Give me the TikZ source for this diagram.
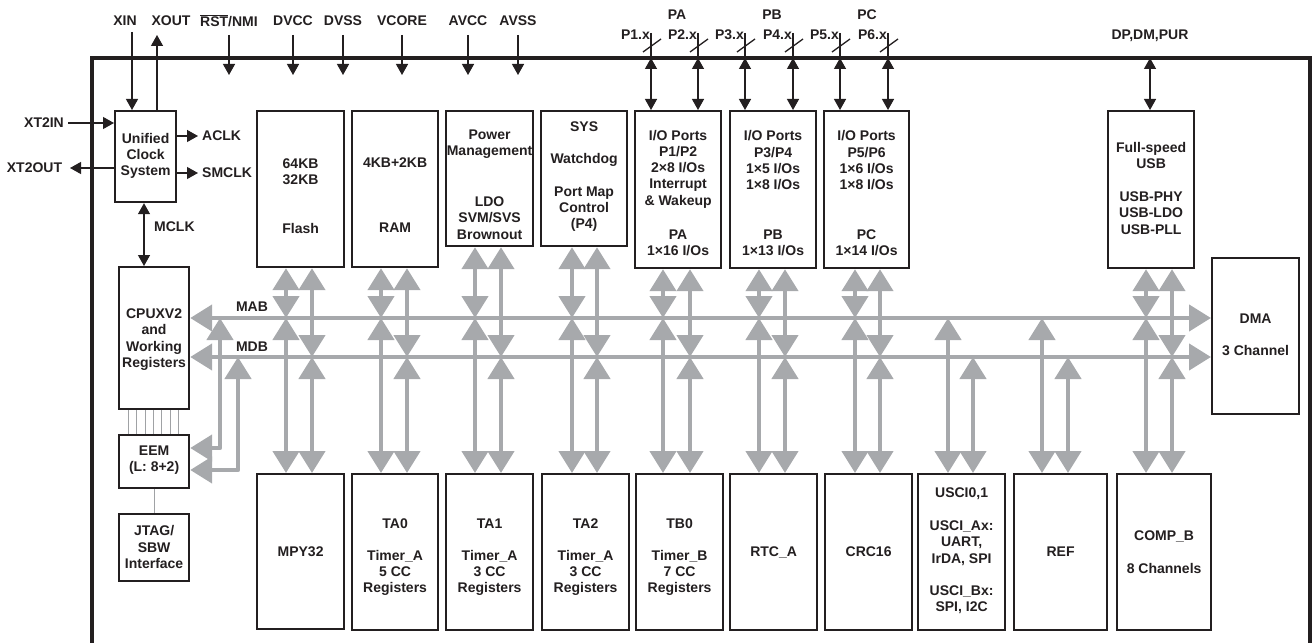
\documentclass[tikz,border=0pt]{standalone}
\usepackage{fontspec}
\setmainfont{Liberation Sans}
\usetikzlibrary{arrows.meta}
\definecolor{ink}{HTML}{231F20}
\definecolor{busgray}{HTML}{A7A9AC}
\definecolor{thingray}{HTML}{A0A2A5}
\tikzset{
  blk/.style={draw=ink, line width=2.2bp, fill=white, inner sep=0pt},
  txt/.style={font=\fontsize{14bp}{16.3bp}\selectfont\bfseries, align=center, inner sep=0pt, text=ink},
  busline/.style={draw=busgray, line width=4.5bp, line join=round},
  busarr/.style={busline, {Triangle[length=22bp,width=26bp]}-{Triangle[length=22bp,width=26bp]}},
  pin/.style={draw=ink, line width=1.3bp},
  pinarr/.style={pin, -{Triangle[length=11bp,width=12bp]}},
  pinboth/.style={pin, {Triangle[length=11bp,width=12bp]}-{Triangle[length=11bp,width=12bp]}},
  thinl/.style={draw=thingray, line width=0.9bp},
  frame/.style={draw=ink, line width=3.3bp}
}
\newcommand\mkbox[5]{\node[blk, anchor=north west, minimum width={(#4-#2)*1bp}, minimum height={(#5-#3)*1bp}] (#1) at (#2,#3) {};}
\begin{document}
\begin{tikzpicture}[x=1bp,y=-1bp]
\useasboundingbox (0,0) rectangle (1314,643);
% frame
\draw[frame] (92,660) -- (92,58) -- (1310,58) -- (1310,660);
\coordinate (mab) at (0,318);
\coordinate (mdb) at (0,357);
% boxes
\mkbox{clk}{114}{110}{175}{201}
\mkbox{flash}{256}{110}{343}{266}
\mkbox{ram}{351}{110}{437}{266}
\mkbox{pm}{445}{110}{532}{245}
\mkbox{sys}{540}{110}{626}{245}
\mkbox{pa}{634}{110}{720}{267}
\mkbox{pb}{729}{110}{815}{267}
\mkbox{pc}{823}{110}{908}{267}
\mkbox{usb}{1107}{110}{1193}{267}
\mkbox{dma}{1211}{257}{1298}{413}
\mkbox{cpu}{118}{266}{188}{408}
\mkbox{eem}{118}{434}{188}{487}
\mkbox{jtag}{118}{513}{188}{580}
\mkbox{mpy}{256}{473}{343}{628}
\mkbox{ta0}{351}{473}{437}{629}
\mkbox{ta1}{445}{473}{532}{629}
\mkbox{ta2}{541}{473}{628}{629}
\mkbox{tb0}{635}{473}{722}{629}
\mkbox{rtc}{729}{473}{816}{629}
\mkbox{crc}{824}{473}{911}{629}
\mkbox{usci}{917}{473}{1004}{629}
\mkbox{ref}{1013}{473}{1106}{629}
\mkbox{comp}{1116}{473}{1210}{629}
% buses
\draw[busarr] (cpu.east |- mab) -- (dma.west |- mab);
\draw[busarr] (cpu.east |- mdb) -- (dma.west |- mdb);
\foreach \tp/\bt/\xl/\xr in {flash/mpy/286/312, ram/ta0/381/407, pm/ta1/475/501, sys/ta2/572/597, pa/tb0/663/690, pb/rtc/759/785, pc/crc/855/880, usb/comp/1146/1172}{
  \draw[busarr] (\tp.south -| \xl,0) -- (\xl,0 |- mab);
  \draw[busarr] (\xl,0 |- mab) -- (\bt.north -| \xl,0);
  \draw[busarr] (\tp.south -| \xr,0) -- (\xr,0 |- mdb);
  \draw[busarr] (\xr,0 |- mdb) -- (\bt.north -| \xr,0);
}
\draw[busarr] (948,0 |- mab) -- (usci.north -| 948,0);
\draw[busarr] (973,0 |- mdb) -- (usci.north -| 973,0);
\draw[busarr] (1042,0 |- mab) -- (ref.north -| 1042,0);
\draw[busarr] (1068,0 |- mdb) -- (ref.north -| 1068,0);
\draw[busarr] (eem.east |- 0,448) -| (220,0 |- mab);
\draw[busarr] (eem.east |- 0,470) -| (238,0 |- mdb);
\node[txt] (mabl) at (252,307) {MAB};
\node[txt] (mdbl) at (252,347) {MDB};
% thin links
\foreach \xx in {128.3,136.7,145,153.3,161.7,170,178.5}
  \draw[thinl] (cpu.south -| \xx,0) -- (eem.north -| \xx,0);
\draw[thinl] (eem.south) -- (jtag.north);
% clock pins
\node[txt] (xin) at (125,21) {XIN};
\node[txt] (xout) at (171,21) {XOUT};
\draw[pinarr] (132,32) -- (clk.north -| 132,0);
\draw[pinarr] (clk.north -| 157,0) -- (157,35);
\node[txt] (xt2in) at (44,123) {XT2IN};
\node[txt] (xt2out) at (34.5,168) {XT2OUT};
\draw[pinarr] (68,123) -- (clk.west |- 0,123);
\draw[pinarr] (clk.west |- 0,168) -- (70,168);
\node[txt, anchor=west] (aclk) at (202,136) {ACLK};
\node[txt, anchor=west] (smclk) at (202,173) {SMCLK};
\draw[pinarr] (clk.east |- 0,136) -- (198,136);
\draw[pinarr] (clk.east |- 0,173) -- (198,173);
\draw[pinboth] (clk.south -| 144,0) -- (cpu.north -| 144,0);
\node[txt, anchor=west] (mclk) at (154,227) {MCLK};
% supply pins
\node[txt] (rst) at (229,21) {$\overline{\hbox{RST}}$/NMI};
\draw[pinarr] (229,35) -- (229,75);
\foreach \nm/\xx/\lb in {dvcc/293/DVCC, dvss/343/DVSS, vcore/402/VCORE, avcc/468/AVCC, avss/518/AVSS}{
  \node[txt] (\nm) at (\xx,21) {\lb};
  \draw[pinarr] (\xx,35) -- (\xx,75);
}
% port pins
\node[txt] (pal) at (677,15) {PA};
\node[txt] (pbl) at (772,15) {PB};
\node[txt] (pcl) at (867,15) {PC};
\foreach \nm/\xx/\bx/\lb in {p1/651/pa/P1.x, p2/698/pa/P2.x, p3/745/pb/P3.x, p4/793/pb/P4.x, p5/840/pc/P5.x, p6/888/pc/P6.x}{
  \node[txt, anchor=east] (\nm) at (\xx-1,35) {\lb};
  \draw[pin] (\xx,33) -- (\xx,58);
  \draw[pin] (\xx-8,52) -- (\xx+10,39);
  \draw[pinboth] (\xx,58) -- (\bx.north -| \xx,0);
}
\node[txt] (dp) at (1150,36) {DP,DM,PUR};
\draw[pinboth] (1150,58) -- (usb.north -| 1150,0);
% texts
\node[txt] (clkt) at (clk.center |- 0,156) {Unified\\Clock\\System};
\node[txt] (flt1) at (flash.center |- 0,171.5) {64KB\\32KB};
\node[txt] (flt2) at (flash.center |- 0,228) {Flash};
\node[txt] (rat1) at (ram.center |- 0,163) {4KB+2KB};
\node[txt] (rat2) at (ram.center |- 0,228) {RAM};
\node[txt] (pmt1) at (pm.center |- 0,144.5) {Power\\Management};
\node[txt] (pmt2) at (pm.center |- 0,218) {LDO\\SVM/SVS\\Brownout};
\node[txt] (syt1) at (sys.center |- 0,127) {SYS};
\node[txt] (syt2) at (sys.center |- 0,160) {Watchdog};
\node[txt] (syt3) at (sys.center |- 0,209) {Port Map\\Control\\(P4)};
\node[txt] (pat1) at (pa.center |- 0,169) {I/O Ports\\P1/P2\\2×8 I/Os\\Interrupt\\\& Wakeup};
\node[txt] (pat2) at (pa.center |- 0,242.5) {PA\\1×16 I/Os};
\node[txt] (pbt1) at (pb.center |- 0,160.5) {I/O Ports\\P3/P4\\1×5 I/Os\\1×8 I/Os};
\node[txt] (pbt2) at (pb.center |- 0,242.5) {PB\\1×13 I/Os};
\node[txt] (pct1) at (pc.center |- 0,160.5) {I/O Ports\\P5/P6\\1×6 I/Os\\1×8 I/Os};
\node[txt] (pct2) at (pc.center |- 0,242.5) {PC\\1×14 I/Os};
\node[txt] (ust1) at (usb.center |- 0,155.5) {Full-speed\\USB};
\node[txt] (ust2) at (usb.center |- 0,213) {USB-PHY\\USB-LDO\\USB-PLL};
\node[txt] (dmt1) at (dma.center |- 0,319) {DMA};
\node[txt] (dmt2) at (dma.center |- 0,351) {3 Channel};
\node[txt] (cpt) at (cpu.center |- 0,339.5) {CPUXV2\\and\\Working\\Registers};
\node[txt] (eet) at (eem.center |- 0,460) {EEM\\(L: 8+2)};
\node[txt] (jtt) at (jtag.center |- 0,547) {JTAG/\\SBW\\Interface};
\node[txt] (mpt) at (mpy.center |- 0,552) {MPY32};
\node[txt] (ta0t1) at (ta0.center |- 0,524) {TA0};
\node[txt] (ta0t2) at (ta0.center |- 0,573) {Timer\_A\\5 CC\\Registers};
\node[txt] (ta1t1) at (ta1.center |- 0,524) {TA1};
\node[txt] (ta1t2) at (ta1.center |- 0,573) {Timer\_A\\3 CC\\Registers};
\node[txt] (ta2t1) at (ta2.center |- 0,524) {TA2};
\node[txt] (ta2t2) at (ta2.center |- 0,573) {Timer\_A\\3 CC\\Registers};
\node[txt] (tb0t1) at (tb0.center |- 0,524) {TB0};
\node[txt] (tb0t2) at (tb0.center |- 0,573) {Timer\_B\\7 CC\\Registers};
\node[txt] (rtct) at (rtc.center |- 0,552) {RTC\_A};
\node[txt] (crct) at (crc.center |- 0,552) {CRC16};
\node[txt] (uct1) at (usci.center |- 0,494) {USCI0,1};
\node[txt] (uct2) at (usci.center |- 0,543) {USCI\_Ax:\\UART,\\IrDA, SPI};
\node[txt] (uct3) at (usci.center |- 0,600) {USCI\_Bx:\\SPI, I2C};
\node[txt] (reft) at (ref.center |- 0,552) {REF};
\node[txt] (cot1) at (comp.center |- 0,536) {COMP\_B};
\node[txt] (cot2) at (comp.center |- 0,568) {8 Channels};
\end{tikzpicture}
\end{document}
